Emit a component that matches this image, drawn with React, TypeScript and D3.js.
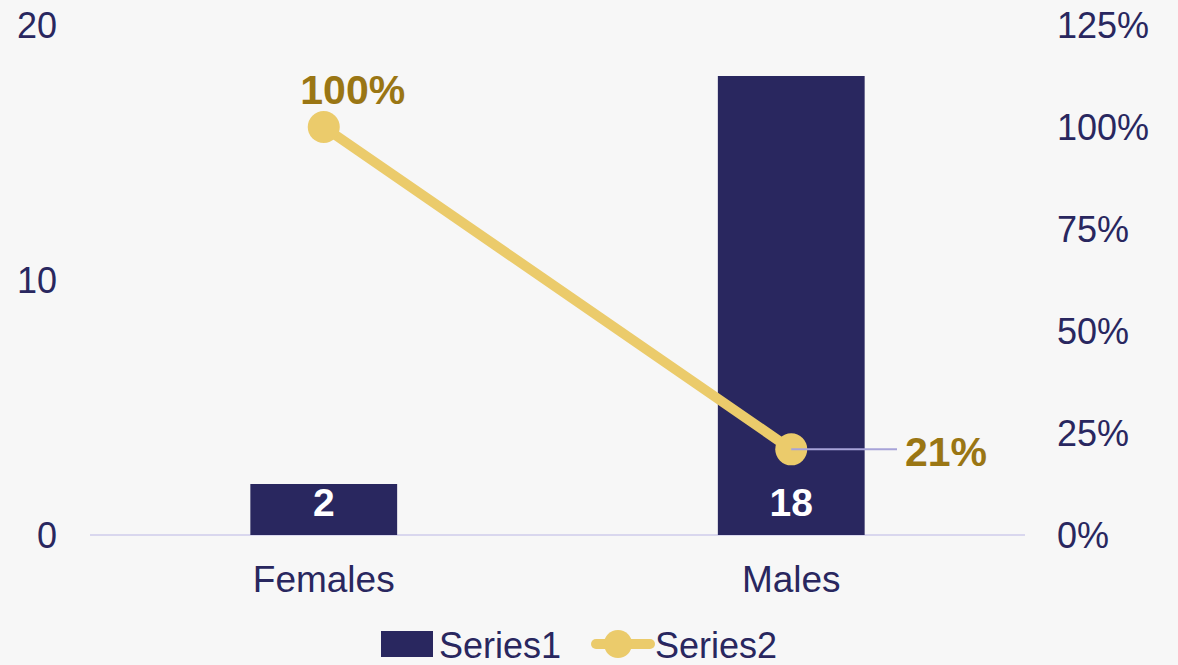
import React from "react";
import * as d3 from "d3";

const categories = ["Females", "Males"];
const series1 = [2, 18];
const series2 = [1.0, 0.21];
const leftTicks = [0, 10, 20];
const rightTicks = [0, 0.25, 0.5, 0.75, 1.0, 1.25];

const W = 1178, H = 665;
const NAVY = "#29275F";
const GOLD = "#EBCB6B";
const GOLD_TEXT = "#9A7614";
const FONT = "'Liberation Sans', Arial, sans-serif";

export default function App() {
  const x = d3.scaleBand<string>().domain(categories).range([90, 1025]).paddingInner(0).paddingOuter(0);
  const yL = d3.scaleLinear().domain([0, 20]).range([535, 25]);
  const yR = d3.scaleLinear().domain([0, 1.25]).range([535, 25]);
  const barW = x.bandwidth() * 0.314;
  const cx = (c: string) => (x(c) as number) + x.bandwidth() / 2;
  const line = d3.line<number>().x((_, i) => cx(categories[i])).y((d) => yR(d));
  const pct = d3.format(".0%");

  return (
    <svg width={W} height={H} style={{ position: "absolute", left: 0, top: 0, background: "#F7F7F7" }} fontFamily={FONT}>
      <rect width={W} height={H} fill="#F7F7F7" />
      <line x1={90} x2={1025} y1={yL(0)} y2={yL(0)} stroke="#D9D7EE" strokeWidth={2} />
      {leftTicks.map((t) => (
        <text key={"l" + t} x={57} y={yL(t)} dy="0.35em" textAnchor="end" fontSize={36} fill={NAVY}>{t}</text>
      ))}
      {rightTicks.map((t) => (
        <text key={"r" + t} x={1057} y={yR(t)} dy="0.35em" textAnchor="start" fontSize={36} fill={NAVY}>{pct(t)}</text>
      ))}
      {categories.map((c, i) => (
        <g key={c}>
          <rect x={cx(c) - barW / 2} y={yL(series1[i])} width={barW} height={yL(0) - yL(series1[i])} fill={NAVY} />
          <text x={cx(c)} y={yL(0) - 33} dy="0.35em" textAnchor="middle" fontSize={39} fontWeight="bold" fill="#FFFFFF">{series1[i]}</text>
          <text x={cx(c)} y={579} dy="0.35em" textAnchor="middle" fontSize={37} fill={NAVY}>{c}</text>
        </g>
      ))}
      <path d={line(series2) || ""} fill="none" stroke={GOLD} strokeWidth={10} strokeLinecap="round" />
      {series2.map((v, i) => (
        <circle key={i} cx={cx(categories[i])} cy={yR(v)} r={16} fill={GOLD} />
      ))}
      <text x={cx(categories[0]) + 29} y={yR(series2[0]) - 37} dy="0.35em" textAnchor="middle" fontSize={41} fontWeight="bold" fill={GOLD_TEXT}>{pct(series2[0])}</text>
      <line x1={cx(categories[1])} x2={897} y1={yR(series2[1])} y2={yR(series2[1])} stroke="#A7A3D8" strokeWidth={2} />
      <text x={905} y={yR(series2[1]) + 2} dy="0.35em" textAnchor="start" fontSize={41} fontWeight="bold" fill={GOLD_TEXT}>{pct(series2[1])}</text>
      <g>
        <rect x={381} y={631} width={52} height={26} fill={NAVY} />
        <text x={439} y={645} dy="0.35em" fontSize={36} fill={NAVY}>Series1</text>
        <line x1={596} x2={650} y1={644} y2={644} stroke={GOLD} strokeWidth={10} strokeLinecap="round" />
        <circle cx={618} cy={644} r={14} fill={GOLD} />
        <text x={655} y={645} dy="0.35em" fontSize={36} fill={NAVY}>Series2</text>
      </g>
    </svg>
  );
}
